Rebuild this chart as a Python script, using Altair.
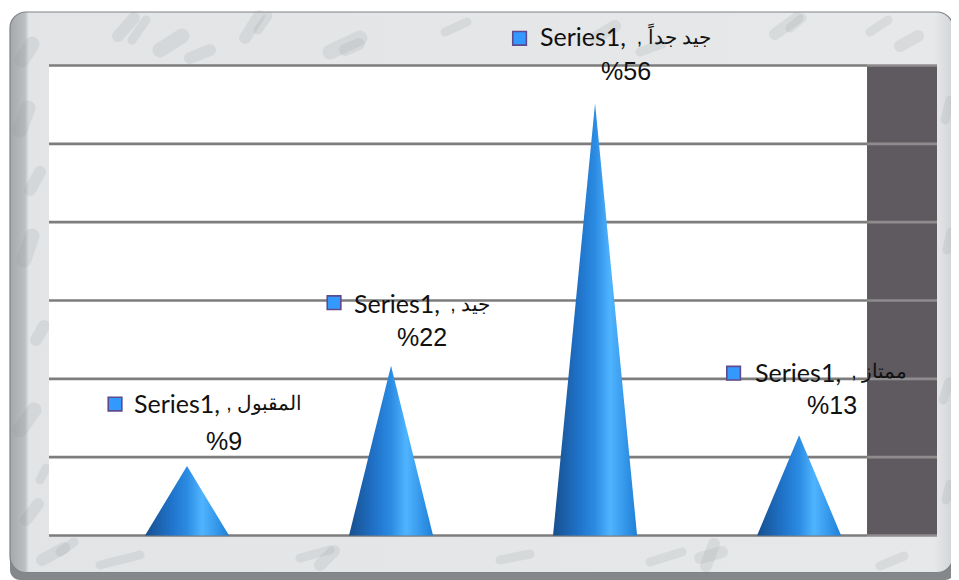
import altair as alt
import pandas as pd

categories = ["المقبول", "جيد", "جيد جداً", "ممتاز"]
values = [9, 22, 56, 13]
percent_labels = ["%9", "%22", "%56", "%13"]
series_name = "Series1,"
grid_values = [0, 10.15, 20.3, 30.45, 40.6, 50.75, 60.9]

X_DOMAIN = [0.3235, 4.676]
Y_DOMAIN = [0, 60.9]
WALL_START = 4.333
CONE_HALF = 0.206

# label layout: offsets from each cone's apex, in pixels
layout = [
    dict(key=(-72, -62), name=(-53, -61), cat=(115, -62), pct=(37, -24)),
    dict(key=(-57, -63), name=(-37, -61), cat=(99, -61), pct=(31, -28)),
    dict(key=(-75.5, -65), name=(-55, -65), cat=(116, -65), pct=(31, -31)),
    dict(key=(-65.5, -62), name=(-44, -61), cat=(108, -63), pct=(33, -29)),
]

# decorative marble mottling on the frame, in page pixels: x, y, dx, dy, width
veins = [
    (118, 36, 16, -18, 4), (132, 40, 14, -20, 3), (160, 50, 22, -14, 5), (190, 58, 20, -8, 4),
    (245, 38, 14, -22, 4), (258, 30, 10, -14, 3), (330, 52, 30, -14, 5), (345, 50, 14, -6, 4),
    (445, 32, 22, -10, 3), (595, 38, 20, -12, 4), (640, 52, 22, -8, 3), (775, 34, 22, -16, 4),
    (790, 28, 12, -10, 3), (870, 32, 18, -12, 3), (900, 46, 18, -10, 4),
    (22, 60, 10, -16, 5), (20, 130, 8, -22, 5), (30, 190, 10, -18, 4), (24, 260, 8, -24, 5),
    (36, 340, 8, -14, 4), (20, 430, 14, -20, 5), (40, 480, 6, -12, 3), (26, 520, 12, -16, 4),
    (42, 560, 22, -12, 4), (60, 552, 14, -10, 3), (100, 565, 40, -10, 3), (300, 558, 30, -8, 3),
    (320, 565, 14, -14, 4), (500, 560, 30, -6, 3), (650, 562, 32, -10, 3), (706, 566, 8, -22, 4),
    (700, 558, 22, -6, 4), (880, 566, 24, -10, 3), (945, 120, 5, -20, 3), (947, 250, 4, -18, 3),
    (943, 400, 6, -18, 3), (946, 500, 4, -16, 3),
]

W, H = 888, 470
OX, OY = 49, 65.5  # page position of the plot origin
xs = alt.Scale(domain=X_DOMAIN, nice=False, zero=False)
ys = alt.Scale(domain=Y_DOMAIN, nice=False, zero=False)
X = lambda f: alt.X(f, type="quantitative", scale=xs, axis=None)
Y = lambda f: alt.Y(f, type="quantitative", scale=ys, axis=None)

seed = pd.DataFrame({"a": [0]})

bottom_band = alt.Chart(seed).mark_rect(color="#85888a", cornerRadius=10).encode(
    x=alt.value(-39), x2=alt.value(906), y=alt.value(480), y2=alt.value(514.5))

frame_edge = alt.Chart(seed).mark_rect(
    cornerRadius=16, stroke="#808285", strokeWidth=1.2,
    color=alt.Gradient(gradient="linear", x1=0, y1=0, x2=1, y2=0, stops=[
        alt.GradientStop(offset=0, color="#a4a8ab"),
        alt.GradientStop(offset=0.016, color="#bcc0c3"),
        alt.GradientStop(offset=0.02, color="#e2e4e6"),
        alt.GradientStop(offset=0.98, color="#e6e8e9"),
        alt.GradientStop(offset=1, color="#d2d4d6"),
    ]),
).encode(x=alt.value(-39), x2=alt.value(904), y=alt.value(-53.5), y2=alt.value(507))

vein_df = pd.DataFrame(
    [dict(x=x - OX, y=y - OY, x2=x + dx - OX, y2=y + dy - OY, w=w * 3) for x, y, dx, dy, w in veins]
)
vein_layer = alt.Chart(vein_df).mark_rule(color="#8e9396", opacity=0.16, strokeCap="round").encode(
    x=alt.X("x:Q", scale=None, axis=None), x2="x2:Q",
    y=alt.Y("y:Q", scale=None, axis=None), y2="y2:Q",
    strokeWidth=alt.StrokeWidth("w:Q", scale=None, legend=None),
)

plot_bg = alt.Chart(seed).mark_rect(color="#ffffff").encode(
    x=alt.value(0), x2=alt.value(818), y=alt.value(0), y2=alt.value(H))

wall_df = pd.DataFrame({"x": [WALL_START], "x2": [X_DOMAIN[1]], "y": [Y_DOMAIN[0]], "y2": [Y_DOMAIN[1]]})
wall = alt.Chart(wall_df).mark_rect(color="#5e5a5f").encode(
    x=X("x"), x2="x2", y=Y("y"), y2="y2")

grid_df = pd.DataFrame({"v": grid_values, "x": X_DOMAIN[0], "x2": WALL_START, "x3": X_DOMAIN[1]})
grid = alt.Chart(grid_df).mark_rule(color="#7d7d7d", strokeWidth=2.6).encode(
    x=X("x"), x2="x2", y=Y("v"))
grid_wall = alt.Chart(grid_df).mark_rule(color="#8f8c8e", strokeWidth=2.6).encode(
    x=X("x2"), x2="x3", y=Y("v"))

cone_gradient = alt.Gradient(gradient="linear", x1=0, y1=0, x2=1, y2=0, stops=[
    alt.GradientStop(offset=0, color="#174f8e"),
    alt.GradientStop(offset=0.3, color="#1f72c8"),
    alt.GradientStop(offset=0.5, color="#2b8be2"),
    alt.GradientStop(offset=0.68, color="#4fb4ff"),
    alt.GradientStop(offset=1, color="#1f7fd8"),
])

layers = [bottom_band, frame_edge, vein_layer, plot_bg, wall, grid, grid_wall]

for i, (cat, v, pct, lay) in enumerate(zip(categories, values, percent_labels, layout), start=1):
    cone = pd.DataFrame({
        "x": [i - CONE_HALF, i, i + CONE_HALF],
        "y": [0, v, 0],
    })
    layers.append(alt.Chart(cone).mark_area(color=cone_gradient, interpolate="linear").encode(
        x=X("x"), y=Y("y")))

for i, (cat, v, pct, lay) in enumerate(zip(categories, values, percent_labels, layout), start=1):
    d = pd.DataFrame({"x": [i], "y": [v], "name": [series_name], "cat": [", " + cat], "pct": [pct]})
    base = alt.Chart(d)
    layers.append(base.mark_square(
        size=185, opacity=1, filled=True, color="#3399ff", stroke="#5f4a8b", strokeWidth=1.6,
        xOffset=lay["key"][0], yOffset=lay["key"][1],
    ).encode(x=X("x"), y=Y("y")))
    layers.append(base.mark_text(
        font="Lato", fontSize=25, color="#111111", align="left", baseline="middle",
        xOffset=lay["name"][0], yOffset=lay["name"][1],
    ).encode(x=X("x"), y=Y("y"), text="name:N"))
    layers.append(base.mark_text(
        font="Liberation Sans", fontSize=19.5, color="#111111", align="right", baseline="middle",
        xOffset=lay["cat"][0], yOffset=lay["cat"][1],
    ).encode(x=X("x"), y=Y("y"), text="cat:N"))
    layers.append(base.mark_text(
        font="Liberation Sans", fontSize=25, color="#111111", align="center", baseline="middle",
        xOffset=lay["pct"][0], yOffset=lay["pct"][1],
    ).encode(x=X("x"), y=Y("y"), text="pct:N"))

chart = alt.layer(*layers).properties(
    width=W, height=H,
    autosize=alt.AutoSizeParams(type="none"),
    padding={"left": 41, "top": 57.5, "right": 14, "bottom": 44.5},
    background="#ffffff",
).configure_view(stroke=None)

chart.save("out.html", embed_options={"renderer": "svg", "actions": False})
